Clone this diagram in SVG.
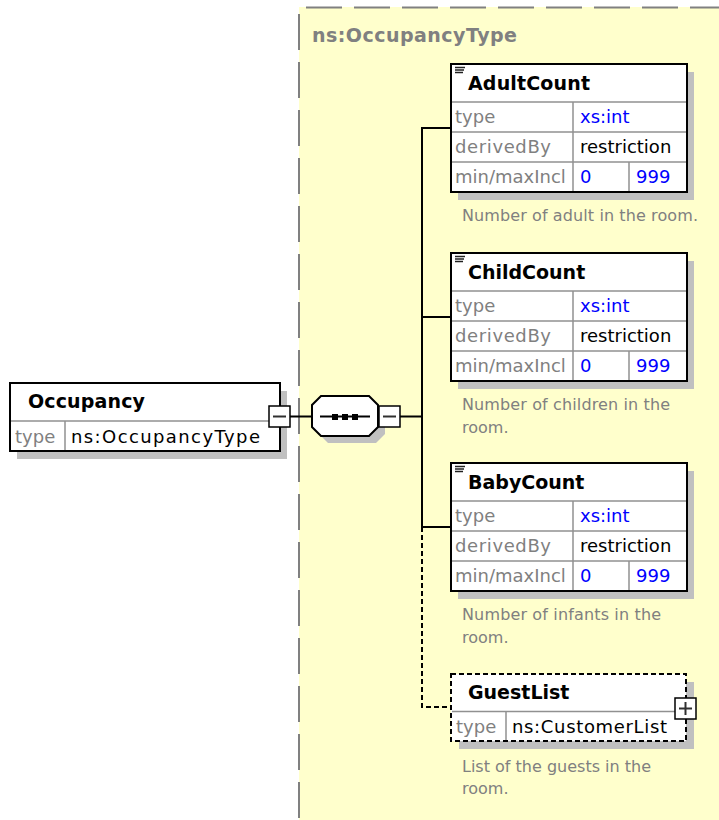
<svg xmlns="http://www.w3.org/2000/svg" xmlns:xlink="http://www.w3.org/1999/xlink" width="719" height="820" viewBox="0 0 719 820">
  <style>
    text { font-family: "DejaVu Sans", "Liberation Sans", sans-serif; }
    .frame { fill: #ffffff; stroke: #000000; stroke-width: 2; }
    .dashframe { fill: #ffffff; stroke: #000000; stroke-width: 2; stroke-dasharray: 5 3; }
    .shadow { fill: #c0c0c0; }
    .grid { stroke: #909090; stroke-width: 1.5; fill: none; }
    .name { font-size: 19px; font-weight: bold; fill: #000000; }
    .key { font-size: 18px; fill: #808080; }
    .val { font-size: 18px; fill: #000000; }
    .num { font-size: 18px; fill: #0000ff; }
    .desc { font-size: 16px; fill: #808080; }
    .title { font-size: 19px; font-weight: bold; fill: #808080; }
    .wire { stroke: #000000; stroke-width: 2; fill: none; }
    .wire-opt { stroke: #000000; stroke-width: 2; fill: none; stroke-dasharray: 5 3; }
    .btn { fill: #ffffff; stroke: #000000; stroke-width: 1.5; }
    .btn-mark { stroke: #303030; stroke-width: 2; }
    .icon { stroke: #202020; stroke-width: 1.5; }
  </style>
  <defs>
    <!-- shared frame for the three integer child elements -->
    <g id="countFrame">
      <rect class="shadow" x="7" y="8" width="236" height="128"/>
      <rect class="frame" x="0" y="0" width="236" height="128"/>
      <line class="grid" x1="1" y1="38" x2="235" y2="38"/>
      <line class="grid" x1="1" y1="68" x2="235" y2="68"/>
      <line class="grid" x1="1" y1="98" x2="235" y2="98"/>
      <line class="grid" x1="122" y1="38" x2="122" y2="127"/>
      <line class="grid" x1="178" y1="98" x2="178" y2="127"/>
      <line class="icon" x1="4" y1="3.5" x2="14" y2="3.5"/>
      <line class="icon" x1="4" y1="6" x2="13" y2="6"/>
      <line class="icon" x1="4" y1="8.5" x2="12" y2="8.5"/>
      <text class="key" x="4" y="59">type</text>
      <text class="num" x="129" y="59">xs:int</text>
      <text class="key" x="4" y="89" textLength="96">derivedBy</text>
      <text class="val" x="129" y="89">restriction</text>
      <text class="key" x="4" y="119">min/maxIncl</text>
      <text class="num" x="129" y="119">0</text>
      <text class="num" x="185" y="119">999</text>
    </g>
  </defs>

  <!-- complex type area -->
  <g id="occupancyType">
    <rect x="299" y="7" width="420" height="813" fill="#ffffcc"/>
    <line x1="306" y1="7.5" x2="719" y2="7.5" stroke="#808080" stroke-width="2" stroke-dasharray="36 12"/>
    <line x1="299" y1="14" x2="299" y2="820" stroke="#808080" stroke-width="2" stroke-dasharray="36 12"/>
    <text class="title" x="312" y="42" textLength="205">ns:OccupancyType</text>
  </g>

  <!-- connectors -->
  <g id="connectors">
    <line class="wire" x1="290" y1="416.5" x2="312" y2="416.5"/>
    <line class="wire" x1="400" y1="416.5" x2="422" y2="416.5"/>
    <line class="wire" x1="422" y1="128" x2="422" y2="527"/>
    <line class="wire" x1="421" y1="128" x2="451" y2="128"/>
    <line class="wire" x1="421" y1="317" x2="451" y2="317"/>
    <line class="wire" x1="421" y1="527" x2="451" y2="527"/>
    <path class="wire-opt" d="M422,527 V707 H451"/>
  </g>

  <!-- root element -->
  <g id="occupancy">
    <rect class="shadow" x="17" y="391" width="270" height="68"/>
    <rect class="frame" x="10" y="383" width="270" height="68"/>
    <line class="grid" x1="11" y1="421" x2="279" y2="421"/>
    <line class="grid" x1="65" y1="421" x2="65" y2="450"/>
    <text class="name" x="28" y="408" textLength="117">Occupancy</text>
    <text class="key" x="15" y="443">type</text>
    <text class="val" x="71" y="443" textLength="189">ns:OccupancyType</text>
    <rect class="btn" x="269" y="406" width="21" height="21"/>
    <line class="btn-mark" x1="273" y1="416.5" x2="286" y2="416.5"/>
  </g>

  <!-- sequence compositor -->
  <g id="sequence">
    <polygon class="shadow" points="328,403 376,403 385,412 385,434 376,443 328,443 319,434 319,412"/>
    <polygon class="frame" points="321,396 369,396 378,405 378,427 369,436 321,436 312,427 312,405"/>
    <line stroke="#000000" stroke-width="2" x1="320" y1="416.5" x2="370" y2="416.5"/>
    <rect x="332" y="414" width="6" height="6" fill="#000000"/>
    <rect x="342" y="414" width="6" height="6" fill="#000000"/>
    <rect x="352" y="414" width="6" height="6" fill="#000000"/>
    <rect class="btn" x="379" y="406" width="21" height="21"/>
    <line class="btn-mark" x1="383" y1="416.5" x2="396" y2="416.5"/>
  </g>

  <g id="adultCount" transform="translate(451,64)">
    <use xlink:href="#countFrame"/>
    <text class="name" x="17" y="26" textLength="122">AdultCount</text>
    <text class="desc" x="11" y="157" textLength="236">Number of adult in the room.</text>
  </g>

  <g id="childCount" transform="translate(451,253)">
    <use xlink:href="#countFrame"/>
    <text class="name" x="17" y="26">ChildCount</text>
    <text class="desc" x="11" y="157" textLength="208">Number of children in the</text>
    <text class="desc" x="11" y="180">room.</text>
  </g>

  <g id="babyCount" transform="translate(451,463)">
    <use xlink:href="#countFrame"/>
    <text class="name" x="17" y="26">BabyCount</text>
    <text class="desc" x="11" y="157" textLength="199">Number of infants in the</text>
    <text class="desc" x="11" y="180">room.</text>
  </g>

  <g id="guestList">
    <rect class="shadow" x="459" y="682" width="235" height="67"/>
    <rect class="dashframe" x="451" y="674" width="235" height="67"/>
    <line class="grid" x1="452" y1="711.5" x2="685" y2="711.5"/>
    <line class="grid" x1="506" y1="712" x2="506" y2="740"/>
    <text class="name" x="468" y="699">GuestList</text>
    <text class="key" x="456" y="733">type</text>
    <text class="val" x="512" y="733" textLength="155">ns:CustomerList</text>
    <rect class="btn" x="675" y="698" width="21" height="21"/>
    <line class="btn-mark" x1="679" y1="708.5" x2="692" y2="708.5"/>
    <line class="btn-mark" x1="685.5" y1="702" x2="685.5" y2="715"/>
    <text class="desc" x="462" y="772" textLength="189">List of the guests in the</text>
    <text class="desc" x="462" y="794">room.</text>
  </g>
</svg>
